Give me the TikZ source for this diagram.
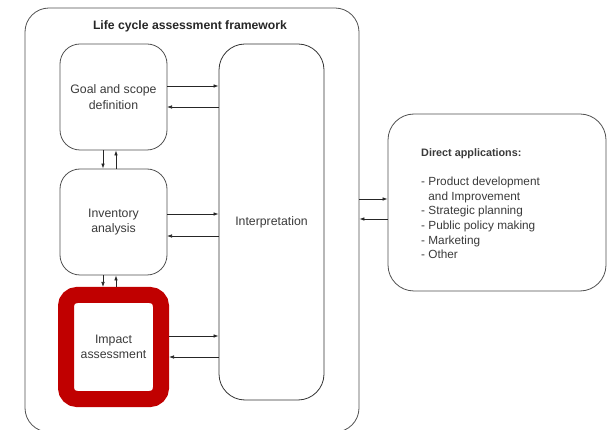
\documentclass[tikz,border=0pt]{standalone}
\usepackage{fontspec}
\setmainfont{Liberation Sans}
\usetikzlibrary{arrows.meta}
\definecolor{edge}{HTML}{505050}
\definecolor{ink}{HTML}{3A3A3A}
\definecolor{mark}{HTML}{C00000}
\tikzset{
  box/.style={draw=edge, line width=0.8pt, rounded corners=20pt, align=center,
    text=ink, font=\fontsize{12.3}{15.5}\selectfont, inner sep=0pt},
  arr/.style={draw=black!85, line width=0.7pt, -{Latex[length=5pt,width=3.6pt]}},
}
\begin{document}
\begin{tikzpicture}[x=1pt,y=-1pt]
\useasboundingbox (0,0) rectangle (608,430);
% framework container
\node[box, rounded corners=24pt, minimum width=334pt, minimum height=424pt] (fw) at (192,220) {};
\node[font=\bfseries\fontsize{12.2}{14}\selectfont, text=black!85] (title) at (190,26) {Life cycle assessment framework};
% phases
\node[box, minimum width=107pt, minimum height=106pt] (goal) at (113.5,97) {Goal and scope\\definition};
\node[box, minimum width=107pt, minimum height=106pt] (inv) at (113.5,222) {Inventory\\analysis};
\node[box, draw=mark, line width=16pt, rounded corners=11pt, minimum width=95pt, minimum height=104pt] (imp) at (113.5,347) {Impact\\assessment};
\node[box, draw=black!80, rounded corners=26pt, minimum width=105pt, minimum height=356pt] (interp) at (271.5,222) {Interpretation};
% applications
\node[box, rounded corners=26pt, minimum width=218pt, minimum height=177pt] (app) at (497,202.5) {};
\node[anchor=north west, align=left, text=ink, font=\fontsize{11.8}{14.6}\selectfont, inner sep=0pt] (applist) at (421,148)
  {{\bfseries\fontsize{10.8}{12}\selectfont Direct applications:}\\[15pt]
   - Product development\\
   \phantom{- }and Improvement\\
   - Strategic planning\\
   - Public policy making\\
   - Marketing\\
   - Other};
% phase <-> interpretation
\coordinate (g1) at (167,86);  \coordinate (g2) at (167,107);
\coordinate (i1) at (167,214); \coordinate (i2) at (167,236);
\coordinate (m1) at (169,336); \coordinate (m2) at (169,357);
\draw[arr] (g1) -- (g1 -| interp.west);
\draw[arr] (g2 -| interp.west) -- (g2);
\draw[arr] (i1) -- (i1 -| interp.west);
\draw[arr] (i2 -| interp.west) -- (i2);
\draw[arr] (m1) -- (m1 -| interp.west);
\draw[arr] (m2 -| interp.west) -- (m2);
% phase <-> phase
\coordinate (d1) at (103,0); \coordinate (u1) at (116,0);
\draw[arr] (d1 |- goal.south) -- (d1 |- inv.north);
\draw[arr] (u1 |- inv.north) -- (u1 |- goal.south);
\draw[arr] (d1 |- inv.south) -- (d1 |- imp.north);
\draw[arr] (u1 |- imp.north) -- (u1 |- inv.south);
% framework <-> applications
\coordinate (a1) at (0,199); \coordinate (a2) at (0,219);
\draw[arr] (a1 -| fw.east) -- (a1 -| app.west);
\draw[arr] (a2 -| app.west) -- (a2 -| fw.east);
\end{tikzpicture}
\end{document}
